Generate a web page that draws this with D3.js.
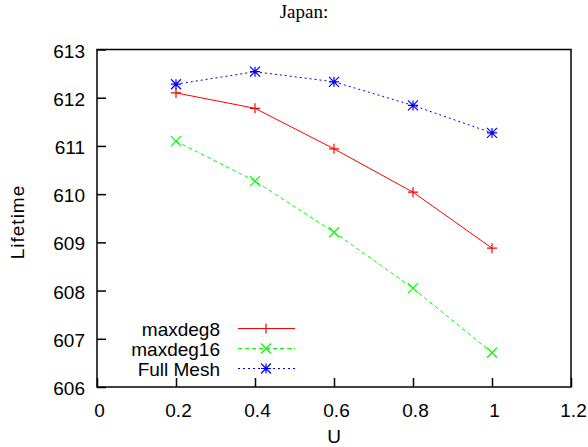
<!DOCTYPE html>
<html>
<head>
<meta charset="utf-8">
<script src="https://cdn.jsdelivr.net/npm/d3@7"></script>
<style>
  body { margin: 0; background: #fff; }
  svg text { font-family: "Liberation Sans", Arial, sans-serif; font-size: 19px; fill: #000; }
</style>
</head>
<body>
<svg id="chart" width="588" height="447"></svg>
<script>
// values
var uValues = [0.2, 0.4, 0.6, 0.8, 1.0];
var maxdeg8 = [612.10, 611.78, 610.94, 610.04, 608.88];
var maxdeg16 = [611.10, 610.27, 609.21, 608.05, 606.71];
var fullMesh = [612.28, 612.54, 612.33, 611.84, 611.27];
var xTicks = [0, 0.2, 0.4, 0.6, 0.8, 1, 1.2];
var yTicks = [606, 607, 608, 609, 610, 611, 612, 613];

var series = [
    { name: "maxdeg8", values: maxdeg8, color: "#ff0000", dash: null, marker: "plus" },
    { name: "maxdeg16", values: maxdeg16, color: "#00ff00", dash: "4,3", marker: "cross" },
    { name: "Full Mesh", values: fullMesh, color: "#0000ff", dash: "2,3", marker: "star" }
];

var plotLeft = 97, plotRight = 571, plotTop = 49.5, plotBottom = 387;
var svg = d3.select("#chart");

var x = d3.scaleLinear().domain([0, 1.2]).range([plotLeft, plotRight]);
var y = d3.scaleLinear().domain([606, 613]).range([plotBottom, plotTop]);

// axes with inward ticks
var xAxis = d3.axisBottom(x).tickValues(xTicks).tickSize(-9).tickPadding(17)
    .tickFormat(function(d) { return String(+d.toFixed(1)); });
var yAxis = d3.axisLeft(y).tickValues(yTicks).tickSize(-9).tickPadding(12).tickFormat(d3.format("d"));

var gx = svg.append("g").attr("transform", "translate(0," + plotBottom + ")").call(xAxis);
var gy = svg.append("g").attr("transform", "translate(" + plotLeft + ",0)").call(yAxis);
[gx, gy].forEach(function(g) {
    g.select(".domain").remove();
    g.selectAll(".tick line").attr("stroke", "#000").attr("stroke-width", 1.5);
    g.selectAll(".tick text").style("font-size", "19px").style("font-family", "Liberation Sans, Arial, sans-serif");
});
gx.selectAll(".tick text").attr("dy", "0.71em").attr("dx", 2);
gy.selectAll(".tick text").attr("dy", "0.40em");

// frame
svg.append("rect")
    .attr("x", plotLeft).attr("y", plotTop)
    .attr("width", plotRight - plotLeft).attr("height", plotBottom - plotTop)
    .attr("fill", "none").attr("stroke", "#000").attr("stroke-width", 1.5);

function drawMarker(g, kind, cx, cy, color) {
    var s = 5;
    var p = "";
    if (kind == "plus" || kind == "star") {
        p += "M" + (cx - s) + "," + cy + "H" + (cx + s) + "M" + cx + "," + (cy - s) + "V" + (cy + s);
    }
    if (kind == "cross" || kind == "star") {
        p += "M" + (cx - s) + "," + (cy - s) + "L" + (cx + s) + "," + (cy + s)
           + "M" + (cx - s) + "," + (cy + s) + "L" + (cx + s) + "," + (cy - s);
    }
    g.append("path").attr("d", p).attr("stroke", color).attr("stroke-width", 1.2).attr("fill", "none");
}

var line = d3.line()
    .x(function(d, i) { return x(uValues[i]); })
    .y(function(d) { return y(d); });

series.forEach(function(s) {
    var g = svg.append("g");
    g.append("path")
        .attr("d", line(s.values))
        .attr("fill", "none")
        .attr("stroke", s.color)
        .attr("stroke-width", 1)
        .attr("stroke-dasharray", s.dash);
    s.values.forEach(function(v, i) {
        drawMarker(g, s.marker, x(uValues[i]), y(v), s.color);
    });
});

// legend
var legend = svg.append("g");
series.forEach(function(s, i) {
    var ly = 328.5 + i * 20;
    legend.append("text")
        .attr("x", 220).attr("y", ly + 7)
        .attr("text-anchor", "end")
        .text(s.name);
    legend.append("line")
        .attr("x1", 238).attr("x2", 295)
        .attr("y1", ly).attr("y2", ly)
        .attr("stroke", s.color).attr("stroke-width", 1)
        .attr("stroke-dasharray", s.dash);
    drawMarker(legend, s.marker, 266, ly, s.color);
});

// titles
svg.append("text")
    .attr("x", 304).attr("y", 18)
    .attr("text-anchor", "middle")
    .style("font-family", "Liberation Serif, Times New Roman, serif")
    .style("font-size", "19px")
    .text("Japan:");

svg.append("text")
    .attr("x", 334).attr("y", 443)
    .attr("text-anchor", "middle")
    .text("U");

svg.append("text")
    .attr("transform", "translate(24,222) rotate(-90)")
    .attr("text-anchor", "middle")
    .style("letter-spacing", "1px")
    .text("Lifetime");
</script>
</body>
</html>
